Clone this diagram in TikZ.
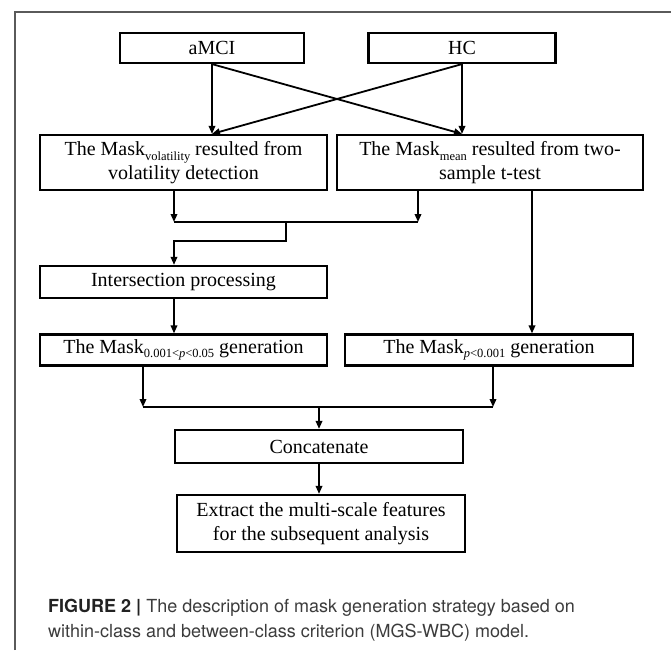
\documentclass[tikz,border=0pt]{standalone}
\usepackage{fontspec}
\setmainfont{Liberation Serif}
\newfontfamily\capfont{TeX Gyre Heros}
\usetikzlibrary{arrows.meta}
\definecolor{framegray}{HTML}{5A5A5A}
\definecolor{captext}{HTML}{3C3C3C}
\definecolor{capbold}{HTML}{222222}
\newcommand\msub[1]{\raisebox{-0.22em}{\fontsize{12.5}{12.5}\selectfont #1}}
\begin{document}
\begin{tikzpicture}[x=1pt,y=-1pt,
  box/.style={draw, line width=2.2pt, inner sep=0pt, align=center,
    font=\fontsize{20}{23.5}\selectfont},
  conn/.style={line width=1.8pt},
  arr/.style={conn, -{Triangle[length=8pt,width=6.5pt]}},
  captxt/.style={anchor=west, inner sep=0pt, text=captext,
    font=\capfont\fontsize{18}{22}\selectfont},
]
\useasboundingbox (0,0) rectangle (671,650);
% frame
\draw[framegray, line width=1.2pt] (15,650) -- (15,12) -- (671,12);

% boxes
\node[box, minimum width=184pt, minimum height=30pt] (amci) at (212,48) {aMCI};
\node[box, minimum width=187pt, minimum height=30pt] (hc) at (462,48) {HC};
\node[box, minimum width=287pt, minimum height=55pt] (vol) at (183.5,162.5)
  {The Mask\msub{volatility} resulted from\\volatility detection};
\node[box, minimum width=306pt, minimum height=55pt] (mean) at (490,162.5)
  {The Mask\msub{mean} resulted from two-\\sample t-test};
\node[box, minimum width=287pt, minimum height=32pt] (inter) at (183.5,282)
  {Intersection processing};
\node[box, minimum width=287pt, minimum height=31pt] (m1) at (183.5,350)
  {The Mask\msub{0.001<\textit{p}<0.05} generation};
\node[box, minimum width=288pt, minimum height=31pt] (m2) at (489,350)
  {The Mask\msub{\textit{p}<0.001} generation};
\node[box, minimum width=288pt, minimum height=33pt] (concat) at (319,446.5)
  {Concatenate};
\node[box, minimum width=288pt, minimum height=57pt] (extract) at (321,523.5)
  {Extract the multi-scale features\\for the subsequent analysis};

% top cross connectors
\draw[arr] (amci.south) -- (amci.south |- vol.north);
\draw[arr] (amci.south) -- (hc.south |- mean.north);
\draw[arr] (hc.south) -- (hc.south |- mean.north);
\draw[arr] (hc.south) -- (amci.south |- vol.north);

% merge of the two masks
\coordinate (j1) at (174,222);
\coordinate (j2) at (418,222);
\coordinate (j3) at (286,222);
\coordinate (j4) at (174,241);
\draw[arr] (vol.south -| j1) -- (j1);
\draw[arr] (mean.south -| j2) -- (j2);
\draw[conn] (j1) -- (j2);
\draw[arr] (j3) |- (j4) -- (j4 |- inter.north);
\draw[arr] (inter.south -| j1) -- (m1.north -| j1);

\coordinate (k) at (532,222);
\draw[arr] (mean.south -| k) -- (m2.north -| k);

% merge into concatenate
\coordinate (l1) at (143,407);
\coordinate (l2) at (493,407);
\draw[arr] (m1.south -| l1) -- (l1);
\draw[arr] (m2.south -| l2) -- (l2);
\draw[conn] (l1) -- (l2);
\draw[arr] (concat.north |- l1) -- (concat.north);
\draw[arr] (concat.south) -- (concat.south |- extract.north);

% caption
\node[captxt] (cap1) at (48,608)
  {{\bfseries\color{capbold}FIGURE 2 |} The description of mask generation strategy based on};
\node[captxt] (cap2) at (48,633)
  {within-class and between-class criterion (MGS-WBC) model.};
\end{tikzpicture}
\end{document}
